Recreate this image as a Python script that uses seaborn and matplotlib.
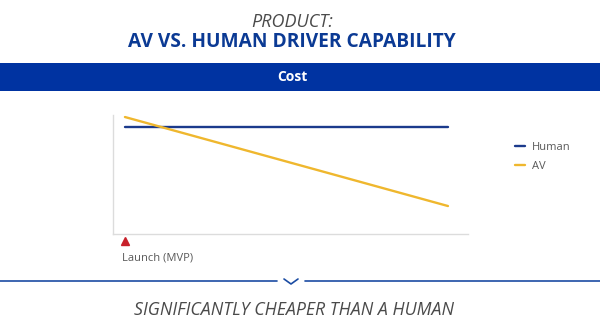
import matplotlib
matplotlib.use("Agg")
import matplotlib.pyplot as plt
import seaborn as sns
import pandas as pd
from matplotlib.lines import Line2D
from matplotlib.patches import Rectangle

# ---- data ----
time_points = [0, 10]
human_cost = [89.9, 89.9]
av_cost = [98.3, 23.5]
series_names = ["Human", "AV"]
launch_x = [0]
launch_label = "Launch (MVP)"

df = pd.DataFrame({
    "t": time_points * 2,
    "cost": human_cost + av_cost,
    "series": [series_names[0]] * len(time_points) + [series_names[1]] * len(time_points),
})

sns.set_theme(style="white")
plt.rcParams["font.family"] = ["Open Sans", "DejaVu Sans"]

W, H = 600, 331
fig = plt.figure(figsize=(6, 3.31), dpi=100)
fig.patch.set_facecolor("white")

def fx(px):
    return px / W

def fy(py):
    return 1 - py / H

# header
fig.text(fx(292), fy(22), "PRODUCT:", ha="center", va="center", fontsize=13,
         style="italic", color="#4a4a4a")
fig.text(fx(292), fy(42), "AV VS. HUMAN DRIVER CAPABILITY", ha="center", va="center",
         fontsize=13.8, fontweight="bold", color="#0b3a94")
fig.patches.append(Rectangle((0, fy(91)), 1, fy(63) - fy(91), transform=fig.transFigure,
                             facecolor="#0033a1", edgecolor="none"))
fig.text(fx(292), fy(77), "Cost", ha="center", va="center", fontsize=10,
         fontweight="bold", color="white")

# axes
ax = fig.add_axes([fx(113), fy(234), fx(468) - fx(113), fy(115) - fy(234)])
palette = {"Human": "#1b3a8c", "AV": "#efb72e"}
sns.lineplot(data=df, x="t", y="cost", hue="series", palette=palette, ax=ax,
             linewidth=1.7, legend=False)
ax.set_xlim(-0.37, 10.62)
ax.set_ylim(0, 100)
ax.set_xticks([])
ax.set_yticks([])
ax.set_xlabel("")
ax.set_ylabel("")
for s in ["top", "right"]:
    ax.spines[s].set_visible(False)
for s in ["left", "bottom"]:
    ax.spines[s].set_color("#dcdcdc")
    ax.spines[s].set_linewidth(1.0)

# launch marker
trans = ax.get_xaxis_transform()
ax.plot(launch_x, [-0.06], marker="^", color="#c8202a", markersize=5.5,
        transform=trans, clip_on=False, linestyle="none")
ax.text(launch_x[0] - 0.1, -0.2, launch_label, transform=trans, ha="left", va="center",
        fontsize=8, color="#595959")

# legend
handles = [Line2D([0], [0], color=palette[n], lw=1.7) for n in series_names]
fig.legend(handles, series_names, loc="center left",
           bbox_to_anchor=(fx(505), fy(157)), frameon=False, fontsize=8,
           handlelength=0.9, handletextpad=0.6, labelspacing=0.75,
           labelcolor="#595959")

# separator with chevron
lc = "#1b4ca3"
fig.lines.append(Line2D([0, fx(277)], [fy(281), fy(281)], transform=fig.transFigure,
                        color=lc, lw=1.2))
fig.lines.append(Line2D([fx(305), 1], [fy(281), fy(281)], transform=fig.transFigure,
                        color=lc, lw=1.2))
fig.lines.append(Line2D([fx(284), fx(291), fx(298)], [fy(279), fy(284), fy(279)],
                        transform=fig.transFigure, color=lc, lw=1.2))

fig.text(fx(294), fy(310), "SIGNIFICANTLY CHEAPER THAN A HUMAN", ha="center", va="center",
         fontsize=12.8, style="italic", color="#4a4a4a")

fig.savefig("out.png", dpi=100, facecolor="white")
